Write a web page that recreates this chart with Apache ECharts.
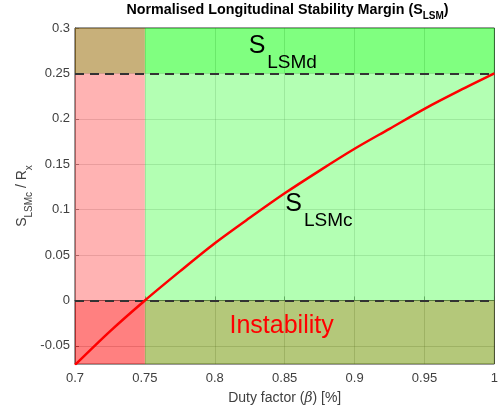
<!DOCTYPE html>
<html><head><meta charset="utf-8">
<script src="https://cdn.jsdelivr.net/npm/echarts@6/dist/echarts.min.js"></script>
<style>html,body{margin:0;padding:0;background:#fff}#c{width:501px;height:410px}</style>
</head><body><div id="c"></div>
<script>
// ---- data ----
const beta = [0.700, 0.725, 0.750, 0.775, 0.800, 0.825, 0.850, 0.875, 0.900, 0.925, 0.950, 0.975, 1.000];
const slsmc = [-0.071, -0.034, 0.000, 0.032, 0.063, 0.091, 0.118, 0.143, 0.167, 0.189, 0.211, 0.231, 0.250];
const xTicks = [0.7, 0.75, 0.8, 0.85, 0.9, 0.95, 1];
const yTicks = [-0.05, 0, 0.05, 0.1, 0.15, 0.2, 0.25, 0.3];
const xRange = [0.7, 1.0];
const yRange = [-0.07, 0.3];
const betaLimit = 0.75;     // duty factor boundary
const sLsmDesired = 0.25;   // S_LSMd level
const sLsmZero = 0;         // instability level
// annotation anchors (data coords: left edge / vertical centre of the main glyph)
const annoD = [0.8242, 0.2798];
const annoC = [0.8504, 0.1058];
const annoI = [0.8105, -0.0286];

const FONT = '"Liberation Sans", Arial, sans-serif';
const TXT = '#404040';

const chart = echarts.init(document.getElementById('c'), null, {renderer: 'canvas'});

const areas = [
  [xRange[0], betaLimit, sLsmDesired, yRange[1], 'rgba(163,123,33,0.6)'],
  [betaLimit, xRange[1], sLsmDesired, yRange[1], 'rgba(43,255,43,0.6)'],
  [xRange[0], betaLimit, sLsmZero, sLsmDesired, 'rgba(255,128,128,0.6)'],
  [betaLimit, xRange[1], sLsmZero, sLsmDesired, 'rgba(128,255,128,0.6)'],
  [xRange[0], betaLimit, yRange[0], sLsmZero, 'rgba(255,43,43,0.6)'],
  [betaLimit, xRange[1], yRange[0], sLsmZero, 'rgba(130,163,33,0.6)']
].map(a => [{xAxis: a[0], yAxis: a[2], itemStyle: {color: a[4]}}, {xAxis: a[1], yAxis: a[3]}]);

const fmt = v => String(+v.toFixed(2));

chart.setOption({
  animation: false,
  textStyle: {fontFamily: FONT},
  grid: {left: 75, right: 1, top: 28, bottom: 46, show: true, borderColor: '#333', borderWidth: 1, backgroundColor: 'transparent'},
  xAxis: {
    type: 'value', min: xRange[0], max: xRange[1], interval: 0.05,
    axisLine: {show: true, lineStyle: {color: '#333', width: 1}},
    axisTick: {show: true, inside: true, length: 4, lineStyle: {color: '#333'}},
    axisLabel: {formatter: fmt, fontSize: 13, color: TXT, margin: 8, fontFamily: FONT, showMaxLabel: true, showMinLabel: true},
    splitLine: {show: true, lineStyle: {color: 'rgba(0,0,0,0.22)', width: 1}},
    name: '{n|Duty factor (}{i|β}{n|) [%]}', nameLocation: 'middle', nameGap: 27, nameMoveOverlap: false,
    nameTextStyle: {fontSize: 14, color: TXT, fontFamily: FONT,
      rich: {n: {fontSize: 14, color: TXT, fontFamily: FONT}, i: {fontSize: 14, color: TXT, fontStyle: 'italic', fontFamily: '"DejaVu Serif", serif'}}}
  },
  yAxis: {
    type: 'value', min: yRange[0], max: yRange[1],
    axisLine: {show: true, lineStyle: {color: '#333', width: 1}},
    axisTick: {show: true, inside: true, length: 4, lineStyle: {color: '#333'}, customValues: yTicks},
    axisLabel: {formatter: fmt, fontSize: 13, color: TXT, margin: 5, fontFamily: FONT, customValues: yTicks},
    splitLine: {show: true, lineStyle: {color: 'rgba(0,0,0,0.22)', width: 1}},
    name: '{s|S}{sub|LSMc}{s| / R}{sub|x}', nameLocation: 'middle', nameRotate: 90, nameGap: 41, nameMoveOverlap: false,
    nameTextStyle: {color: TXT, fontFamily: FONT,
      rich: {
        s: {fontSize: 14, color: TXT, fontFamily: FONT, lineHeight: 19, verticalAlign: 'top'},
        sub: {fontSize: 10, color: TXT, fontFamily: FONT, lineHeight: 10, verticalAlign: 'bottom'}
      }}
  },
  series: [{
    type: 'line',
    data: beta.map((b, i) => [b, slsmc[i]]),
    smooth: 0.3, symbol: 'none', clip: true,
    lineStyle: {color: '#ff0000', width: 2.5},
    z: 5,
    markArea: {silent: true, label: {show: false}, data: areas},
    markLine: {
      silent: true, symbol: 'none', label: {show: false},
      lineStyle: {color: '#333', type: [9, 6], width: 2},
      data: [{yAxis: sLsmZero}, {yAxis: sLsmDesired}]
    }
  }]
});

function p(d) { return chart.convertToPixel({gridIndex: 0}, d); }
// main glyph top-aligned, subscript bottom-aligned: shift = Lm - big/2 - small/2
const subRich = (color, big, small, shift) => ({
  s: {fontSize: big, color: color, fontFamily: FONT, lineHeight: shift + big / 2 + small / 2, verticalAlign: 'top'},
  sub: {fontSize: small, color: color, fontFamily: FONT, lineHeight: small, verticalAlign: 'bottom', padding: [0, 0, 0, 2]}
});
const pd = p(annoD), pc = p(annoC), pi = p(annoI);
chart.setOption({
  graphic: [
    {type: 'text', x: 287.5, y: 3, z: 100, style: {
      text: '{s|Normalised Longitudinal Stability Margin (S}{sub|LSM}{s|)}', align: 'center', verticalAlign: 'top',
      rich: {
        s: {fontSize: 14.3, fontWeight: 'bold', color: '#1a1a1a', fontFamily: FONT, lineHeight: 18.7, verticalAlign: 'top'},
        sub: {fontSize: 10, fontWeight: 'bold', color: '#1a1a1a', fontFamily: FONT, lineHeight: 10, verticalAlign: 'bottom'}
      }}},
    {type: 'text', x: pd[0], y: pd[1] - 12.5, z: 100, style: {text: '{s|S}{sub|LSMd}', align: 'left', verticalAlign: 'top', rich: subRich('#000', 25, 19, 16)}},
    {type: 'text', x: pc[0], y: pc[1] - 12.5, z: 100, style: {text: '{s|S}{sub|LSMc}', align: 'left', verticalAlign: 'top', rich: subRich('#ff0000', 25, 19, 16.5)}},
    {type: 'text', x: pi[0], y: pi[1], z: 100, style: {text: 'Instability', align: 'left', verticalAlign: 'middle', fontSize: 25, fill: '#ff0000', fontFamily: FONT}}
  ]
});
</script>
</body></html>
